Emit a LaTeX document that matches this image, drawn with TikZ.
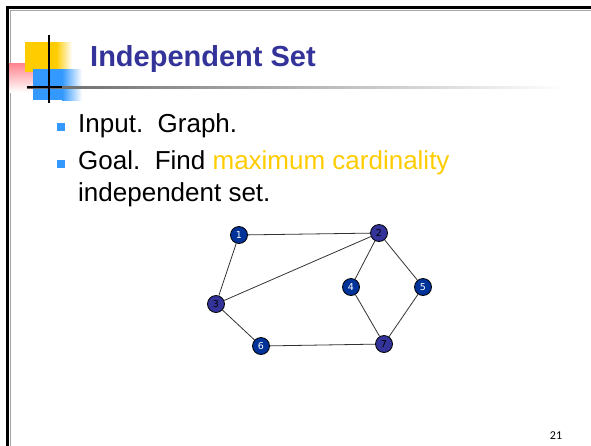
\documentclass[tikz,border=0pt]{standalone}
\usepackage{fontspec}
\setmainfont{Liberation Sans}
\newfontfamily\numfont{Carlito}
\newfontfamily\vertfont{DejaVu Sans}
\usepackage{xcolor}

\definecolor{titleblue}{RGB}{51,51,153}
\definecolor{nodeblue}{RGB}{0,51,153}
\definecolor{nodeindigo}{RGB}{51,51,153}
\definecolor{bulletblue}{RGB}{51,153,255}
\definecolor{goldtext}{RGB}{255,204,0}
\definecolor{logoyellow}{RGB}{255,204,0}
\definecolor{logopink}{RGB}{255,130,140}

\begin{document}
\begin{tikzpicture}[x=1pt, y=-1pt,
    vert/.style={circle, draw=black, line width=0.8pt, minimum size=17pt,
                 inner sep=0pt, font=\vertfont\fontsize{9.5}{9.5}\selectfont},
    vblue/.style={vert, fill=nodeblue, text=white},
    vindigo/.style={vert, fill=nodeindigo, text=black},
    edge/.style={draw=black!80, line width=0.8pt},
    bullet/.style={fill=bulletblue}
]
    \useasboundingbox (0,0) rectangle (591,445);

    % Slide frame
    \draw[black!35, line width=1pt] (10,600) -- (10,10) -- (700,10);
    \draw[line width=3pt] (7.5,600) -- (7.5,7.5) -- (700,7.5);

    % Logo
    \shade[top color=logopink, bottom color=white] (9,63) rectangle (34,92);
    \fill[logoyellow] (25,42) rectangle (56,72);
    \shade[left color=logoyellow, right color=white] (56,42) rectangle (72,72);
    \fill[bulletblue] (33,69) rectangle (62,100);
    \shade[left color=bulletblue, right color=white] (62,69) rectangle (82,100);

    % Title rule
    \shade[left color=black!60, right color=white] (27,86) rectangle (565,88.5);
    \draw[line width=1.2pt] (27,87) -- (62,87);
    \draw[line width=1.2pt] (49,35) -- (49,103);

    % Title
    \node[anchor=base west, inner sep=0pt, text=titleblue,
          font=\fontsize{29}{34}\selectfont\bfseries] (title) at (90,66) {Independent Set};

    % Bullets
    \fill[bullet] (57,123) rectangle (65,131);
    \fill[bullet] (57,160) rectangle (65,168);
    \node[anchor=base west, inner sep=0pt, font=\fontsize{26}{30}\selectfont]
        (input) at (78,132) {Input.\ \ Graph.};
    \node[anchor=base west, inner sep=0pt, font=\fontsize{26}{30}\selectfont]
        (goal) at (78,169) {Goal.\ \ Find \textcolor{goldtext}{maximum cardinality}};
    \node[anchor=base west, inner sep=0pt, font=\fontsize{26}{30}\selectfont]
        (goal2) at (78,201) {independent set.};

    % Graph
    \node[vblue]   (v1) at (239,235) {1};
    \node[vindigo] (v2) at (379,233) {2};
    \node[vindigo] (v3) at (216,304) {3};
    \node[vblue]   (v4) at (351,287) {4};
    \node[vblue]   (v5) at (423,287) {5};
    \node[vblue]   (v6) at (261,346) {6};
    \node[vindigo] (v7) at (384,344) {7};

    \foreach \a/\b in {v1/v2, v1/v3, v2/v3, v2/v4, v2/v5, v4/v7, v5/v7, v3/v6, v6/v7}
        \draw[edge] (\a) -- (\b);

    % Page number
    \node[anchor=base, inner sep=0pt, font=\numfont\fontsize{12}{12}\selectfont]
        (page) at (556,439) {21};
\end{tikzpicture}
\end{document}
